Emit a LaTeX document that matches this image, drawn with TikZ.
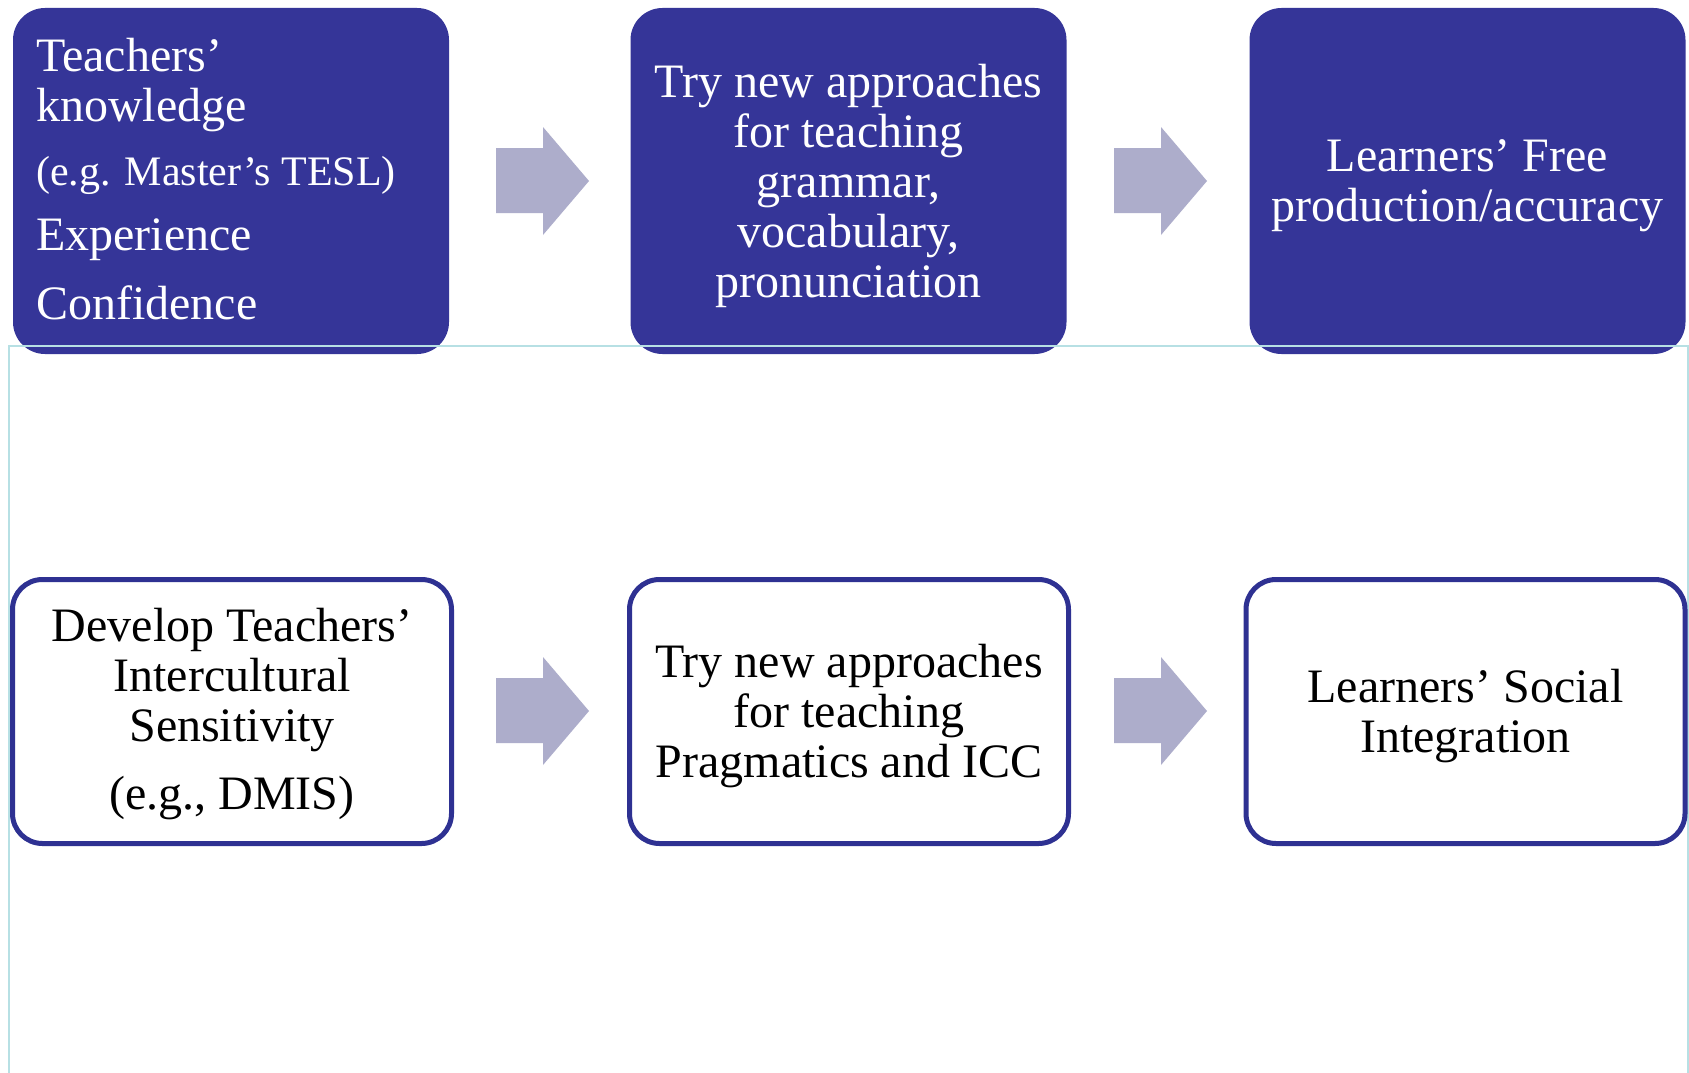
\documentclass[tikz,border=0pt]{standalone}
\usepackage{fontspec}
\setmainfont{Liberation Serif}
\definecolor{darkbox}{RGB}{53,53,152}
\definecolor{boxline}{RGB}{46,49,146}
\definecolor{arrowfill}{RGB}{173,173,203}
\definecolor{framecol}{RGB}{183,224,228}
\tikzset{
  topbox/.style={rectangle, rounded corners=32pt, fill=darkbox, draw=none,
    minimum width=436pt, minimum height=346pt, inner sep=0pt},
  toptext/.style={text=white, font=\fontsize{48}{50}\selectfont, align=center, inner sep=0pt, yshift=-4.5pt},
  leftline/.style={text=white, font=\fontsize{48}{50}\selectfont, anchor=base west, inner sep=0pt},
  botbox/.style={rectangle, rounded corners=30pt, fill=white, draw=boxline, line width=5pt,
    minimum width=439pt, minimum height=264pt, inner sep=0pt},
  bottext/.style={text=black, font=\fontsize{48}{50}\selectfont, align=center, inner sep=0pt, yshift=-4.5pt},
  blockarrow/.style={fill=arrowfill, draw=none}
}
\begin{document}
\begin{tikzpicture}[x=1pt,y=-1pt]
\useasboundingbox (0,0) rectangle (1689,1073);
\fill[white] (0,0) rectangle (1689,1073);
% top row
\node[topbox] (b1) at (231,181) {};
\node[topbox] (b2) at (848.5,181) {};
\node[topbox] (b3) at (1467.5,181) {};
\node[leftline] (l1) at (36,71) {Teachers’};
\node[leftline] (l2) at (36,121) {knowledge};
\node[leftline, font=\fontsize{42}{46}\selectfont] (l3) at (36,185) {(e.g. Master’s TESL)};
\node[leftline] (l4) at (36,250) {Experience};
\node[leftline] (l5) at (36,319) {Confidence};
\node[toptext] (t2) at (b2) {Try new approaches\\for teaching\\grammar,\\vocabulary,\\pronunciation};
\node[toptext] (t3) at (b3) {Learners’ Free\\production/accuracy};
% frame
\draw[framecol, line width=2pt] (9,1073) -- (9,346) -- (1688,346) -- (1688,1073);
% bottom row
\node[botbox] (c1) at (232,711.5) {};
\node[botbox] (c2) at (849,711.5) {};
\node[botbox] (c3) at (1465.5,711.5) {};
\node[bottext, yshift=4.5pt] (s1) at (232,714) {Develop Teachers’\\Intercultural\\Sensitivity\\[18pt](e.g., DMIS)};
\node[bottext] (s2) at (c2) {Try new approaches\\for teaching\\Pragmatics and ICC};
\node[bottext] (s3) at (c3) {Learners’ Social\\Integration};
% block arrows
\foreach \dx/\dy in {0/0, 618/0, 0/530, 618/530}{
  \fill[blockarrow, shift={(\dx,\dy)}] (496,148) -- (543,148) -- (543,127) -- (589,181)
     -- (543,235) -- (543,213) -- (496,213) -- cycle;
}
\end{tikzpicture}
\end{document}
